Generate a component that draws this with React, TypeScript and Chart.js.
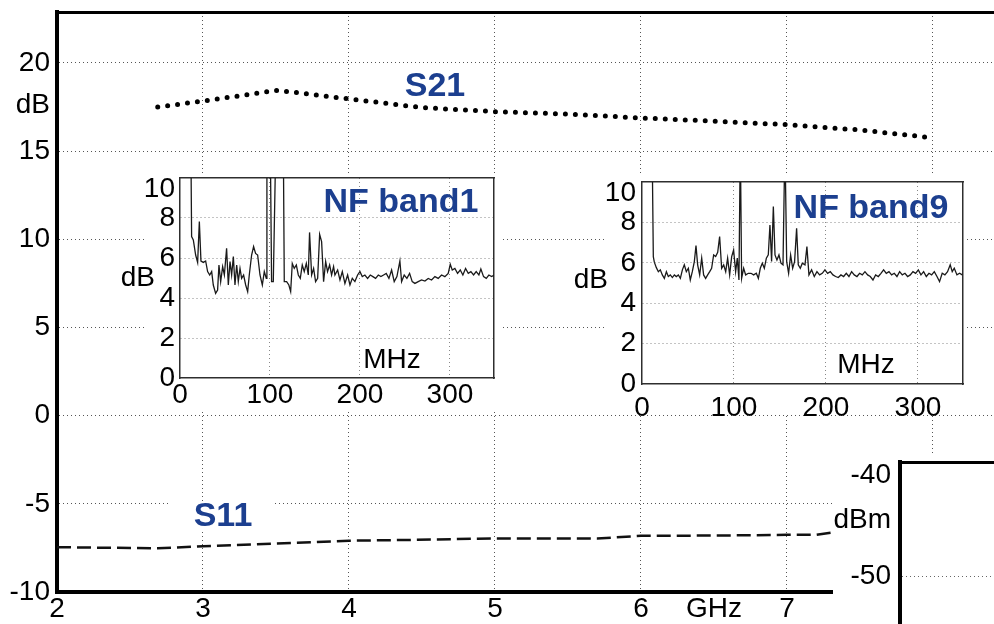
import React, { useEffect, useRef } from 'react';
import { Chart, registerables } from 'chart.js';

Chart.register(...registerables);

const FONT = '"Liberation Sans", Arial, Helvetica, sans-serif';
const TITLE_BLUE = '#1c3f8f';
const NONE = 'rgba(0,0,0,0)';
const GRID_DASH = [1, 3];

// ---------------- main chart (S-parameters vs GHz) ----------------
const s21FreqGHz = [2.69, 3.0, 3.51, 4.0, 4.5, 5.0, 5.5, 6.0, 6.5, 7.0, 7.5, 7.95];
const s21GainDB = [17.5, 17.84, 18.45, 17.96, 17.47, 17.24, 17.1, 16.88, 16.7, 16.5, 16.2, 15.8];
const s11FreqGHz = [2.0, 2.69, 3.0, 3.5, 4.0, 4.4, 5.0, 5.7, 6.0, 6.5, 7.0, 7.2, 7.33];
const s11ReturnDB = [-7.46, -7.52, -7.41, -7.25, -7.09, -7.05, -6.96, -6.97, -6.81, -6.8, -6.76, -6.76, -6.6];
const mainXTickValues = [2, 3, 4, 5, 6, 6.5, 7, 8];
const mainXTickLabels = ['2', '3', '4', '5', '6', 'GHz', '7', '8'];
const mainYTickValues = [-10, -5, 0, 5, 10, 15, 17.62, 20];
const mainYTickLabels = ['-10', '-5', '0', '5', '10', '15', 'dB', '20'];

// ---------------- NF insets (dB vs MHz) ----------------
const nfXTickValues = [0, 100, 200, 300];
const nfXTickLabels = ['0', '100', '200', '300'];
const nfYTickValues = [0, 2, 4, 6, 8, 9.45];
const nfYTickLabels = ['0', '2', '4', '6', '8', '10'];

const band1FreqMHz = [
  10, 12.2, 12.9, 14.8, 17.4, 19.6, 21.5, 23.3, 25.9, 28.5,
  30.7, 33, 35.2, 37, 39.6, 41.8, 43.3, 45.2, 47.4, 49.3,
  51.8, 53.7, 55.6, 57.4, 59.3, 61.1, 63, 64.8, 66.7, 68.5,
  70.7, 73, 75.2, 77, 79.6, 81.8, 84, 86.3, 88.9, 91.5,
  93.7, 95.9, 96.6, 100.3, 101.8, 103.7, 106.6, 114.8, 115.9, 118.5,
  121, 123, 124.8, 127, 129.3, 131.5, 133.7, 135.9, 138.1, 140.4,
  142.6, 144, 146.3, 148.5, 150.7, 153, 155.2, 157.4, 159.6, 161.9,
  164, 166.3, 168.5, 170.7, 172.2, 175.2, 177.8, 180.4, 183.3, 186.3,
  188.9, 191.5, 194.4, 197.4, 200, 202.6, 205.5, 208.5, 211.5, 214.4,
  217.4, 220.4, 223.3, 226.3, 229.2, 232.2, 235.2, 238.1, 241.1, 244.4,
  246.3, 249.2, 252.2, 255.2, 258.1, 261.1, 264.8, 268.5, 272.2, 275.9,
  279.6, 283.3, 287, 290.7, 294.4, 298.1, 300.4, 302.6, 305.5, 308.5,
  311.5, 314.4, 317.4, 320.4, 323.3, 326.3, 329.2, 332.2, 334.4, 337.4,
  340.4, 343.3, 346.3, 349.3,
];
const band1NoiseFigureDB = [
  12, 11, 7.07, 6.9, 6.15, 5.78, 7.82, 5.85, 5.78, 5.85,
  5.32, 5.15, 5.32, 4.65, 4.23, 4.4, 5.65, 4.82, 5.57, 5.15,
  6.48, 4.65, 5.82, 5.15, 6.07, 4.65, 5.65, 4.82, 5.48, 4.98,
  5.15, 4.65, 4.32, 5.15, 6.15, 6.57, 6.23, 6.15, 5.15, 4.65,
  5.32, 4.98, 12, 12, 4.82, 4.82, 12, 12, 4.82, 4.82,
  4.65, 4.32, 5.73, 5.48, 5.65, 5.15, 4.98, 5.65, 5.32, 5.73,
  5.15, 7.28, 5.15, 5.48, 4.82, 4.98, 7.18, 6.82, 4.82, 5.82,
  5.32, 5.65, 5.15, 5.57, 5.15, 5.4, 4.9, 5.32, 4.73, 5.15,
  4.65, 4.98, 4.82, 5.15, 5.32, 5.07, 5.15, 4.98, 5.15, 5.07,
  4.98, 5.15, 5.07, 5.15, 5.23, 4.98, 5.4, 4.82, 5.07, 5.85,
  4.82, 5.15, 4.98, 5.23, 4.82, 4.73, 4.82, 4.9, 4.85, 4.98,
  4.9, 5.07, 4.98, 5.15, 5.07, 5.23, 5.68, 5.4, 5.48, 5.23,
  5.4, 5.15, 5.48, 5.23, 5.32, 5.15, 5.32, 5.15, 5.45, 5.07,
  4.98, 5.15, 5.07, 5.15,
];

const band9FreqMHz = [
  9, 11.2, 12.3, 13.4, 15.6, 17.8, 19.9, 22.1, 24.3, 26.5,
  28.6, 30.8, 33, 35.2, 37.3, 39.5, 41.7, 43.9, 46, 48.2,
  50.4, 52.5, 54.7, 56.9, 58.7, 60.5, 62.7, 64.9, 67, 69.2,
  71.4, 73.6, 75.7, 77.9, 80.1, 82.3, 84.4, 86.6, 88.8, 91,
  93.1, 95.3, 97.5, 99.6, 101.8, 103.6, 105.4, 106.9, 108.3, 110.5,
  112.7, 115.6, 118.5, 121.4, 124.3, 126.5, 128.6, 130.8, 133, 135.2,
  137.3, 139.1, 140.9, 142.8, 144.6, 146.7, 148.9, 151.1, 153.3, 155.4,
  157.3, 159.4, 161.6, 163.8, 165.9, 168.1, 169.9, 172.1, 174.3, 177.2,
  179.3, 181.5, 184.4, 187.3, 190.2, 193.1, 196, 198.9, 201.8, 204.7,
  207.6, 210.5, 213.4, 216.3, 219.2, 222.1, 225, 227.9, 230.8, 233.7,
  236.6, 239.5, 242.4, 245.3, 248.2, 251.1, 254, 256.9, 259.8, 262.7,
  265.6, 268.5, 271.4, 274.3, 277.2, 280.1, 283, 285.9, 288.8, 291.7,
  294.6, 297.5, 300.4, 303.3, 306.2, 309.1, 312, 314.9, 317.8, 320.7,
  323.5, 326.4, 329.3, 332.2, 335.1, 337.3, 339.5, 342.4, 345.3, 348.2,
];
const band9NoiseFigureDB = [
  12, 11, 6.3, 6.03, 5.76, 5.56, 5.65, 5.4, 5.23, 5.56,
  5.32, 5.4, 5.27, 5.4, 5.32, 5.4, 5.23, 5.65, 5.9, 5.56,
  5.73, 5.15, 5.56, 6.06, 6.85, 5.9, 5.4, 6.23, 5.4, 5.23,
  5.4, 5.56, 5.73, 6.39, 6.31, 6.52, 7.3, 5.73, 5.9, 5.56,
  6.23, 5.4, 6.31, 6.64, 5.56, 6.23, 5.15, 12, 5.23, 5.73,
  5.4, 5.48, 5.48, 5.4, 5.48, 5.23, 5.73, 5.98, 5.73, 6.23,
  6.39, 7.87, 6.06, 8.78, 6.39, 6.14, 6.39, 5.98, 5.9, 12,
  6.06, 5.48, 6.39, 5.73, 6.06, 7.71, 5.9, 5.73, 5.98, 5.9,
  6.8, 5.4, 5.65, 5.32, 5.56, 5.4, 5.48, 5.65, 5.48, 5.56,
  5.4, 5.32, 5.27, 5.4, 5.32, 5.48, 5.32, 5.56, 5.4, 5.32,
  5.48, 5.4, 5.56, 5.4, 5.32, 5.15, 5.4, 5.32, 5.48, 5.65,
  5.48, 5.56, 5.4, 5.48, 5.32, 5.56, 5.4, 5.48, 5.32, 5.4,
  5.56, 5.48, 5.65, 5.4, 5.56, 5.32, 5.48, 5.4, 5.56, 5.32,
  5.07, 5.48, 5.4, 5.56, 5.9, 5.56, 5.73, 5.4, 5.48, 5.4,
];

// ---------------- dBm inset (partially visible) ----------------
const dbmYTickValues = [-50, -44.46, -40];
const dbmYTickLabels = ['-50', 'dBm', '-40'];

const zip = (xs: number[], ys: number[]) => xs.map((x, i) => ({ x, y: ys[i] }));

const baseOptions = {
  responsive: false,
  animation: false,
  devicePixelRatio: 1,
  events: [],
  plugins: { legend: { display: false }, tooltip: { enabled: false } },
};

function setTicks(values: number[]) {
  return (s: any) => {
    s.ticks = values.map((v) => ({ value: v }));
  };
}

function frameAxis(position: string, min: number, max: number, width: number, color: string) {
  const horizontal = position === 'top' || position === 'bottom';
  return {
    type: 'linear',
    position,
    min,
    max,
    ticks: { display: false },
    grid: { display: false },
    border: { display: true, width, color },
    afterFit: (s: any) => {
      if (horizontal) {
        s.height = 0;
        s.paddingLeft = 0;
        s.paddingRight = 0;
      } else {
        s.width = 0;
        s.paddingTop = 0;
        s.paddingBottom = 0;
      }
    },
  };
}

function mainConfig(): any {
  const hiddenX = [2, 6.5];
  const hiddenY = [-10, 17.62];
  const decor = {
    id: 'mainDecor',
    beforeDatasetsDraw(chart: any) {
      const { ctx, scales } = chart;
      const cx = scales.x.getPixelForValue(3.137);
      const cy = scales.y.getPixelForValue(-5.74);
      ctx.save();
      ctx.fillStyle = '#fff';
      ctx.fillRect(cx - 52, cy - 14, 101, 28);
      ctx.restore();
    },
    afterDatasetsDraw(chart: any) {
      const { ctx, scales } = chart;
      ctx.save();
      ctx.fillStyle = TITLE_BLUE;
      ctx.font = `bold 34px ${FONT}`;
      ctx.textAlign = 'center';
      ctx.textBaseline = 'middle';
      ctx.fillText('S21', scales.x.getPixelForValue(4.589), scales.y.getPixelForValue(18.64));
      ctx.fillText('S11', scales.x.getPixelForValue(3.137), scales.y.getPixelForValue(-5.74));
      ctx.restore();
    },
  };
  return {
    type: 'line',
    data: {
      datasets: [
        {
          data: zip(s21FreqGHz, s21GainDB),
          borderColor: '#000',
          borderWidth: 5,
          borderDash: [0, 10],
          borderCapStyle: 'round',
          pointRadius: 0,
          tension: 0,
          fill: false,
        },
        {
          data: zip(s11FreqGHz, s11ReturnDB),
          borderColor: '#111',
          borderWidth: 2.5,
          borderDash: [14, 6],
          borderCapStyle: 'butt',
          pointRadius: 0,
          tension: 0,
          fill: false,
        },
      ],
    },
    options: {
      ...baseOptions,
      layout: { padding: { top: 12, left: 0, right: 0, bottom: 0 } },
      scales: {
        x: {
          type: 'linear',
          position: 'bottom',
          min: 2,
          max: 8.418,
          afterBuildTicks: setTicks(mainXTickValues),
          afterFit: (s: any) => {
            s.height = 32;
            s.paddingLeft = 0;
            s.paddingRight = 0;
          },
          ticks: {
            autoSkip: false,
            maxRotation: 0,
            padding: 0,
            color: '#000',
            font: { family: FONT, size: 28 },
            callback: (_v: any, i: number) => mainXTickLabels[i],
          },
          grid: {
            drawTicks: false,
            lineWidth: 1,
            color: (c: any) => (c.tick && hiddenX.includes(c.tick.value) ? NONE : '#555'),
          },
          border: { display: true, width: 4, color: '#000', dash: GRID_DASH },
        },
        xTop: frameAxis('top', 2, 8.418, 3, '#000'),
        y: {
          type: 'linear',
          position: 'left',
          min: -10,
          max: 22.89,
          afterBuildTicks: setTicks(mainYTickValues),
          afterFit: (s: any) => {
            s.width = 57;
            s.paddingTop = 0;
            s.paddingBottom = 0;
          },
          ticks: {
            autoSkip: false,
            padding: 7,
            color: '#000',
            font: { family: FONT, size: 28 },
            callback: (_v: any, i: number) => mainYTickLabels[i],
          },
          grid: {
            drawTicks: false,
            lineWidth: 1,
            color: (c: any) => (c.tick && hiddenY.includes(c.tick.value) ? NONE : '#555'),
          },
          border: { display: true, width: 4, color: '#000', dash: GRID_DASH },
        },
      },
    },
    plugins: [decor],
  };
}

interface NFParams {
  freq: number[];
  nf: number[];
  title: string;
  titleAt: [number, number];
  unitAt: [number, number];
  dbAt: number;
  dbGap: number;
  whiteLeft: number;
  whiteHeight: number;
  padTop: number;
  padRight: number;
  yAxisWidth: number;
  xAxisHeight: number;
  yLabelPad: number;
  xLabelPad: number;
}

function nfConfig(p: NFParams): any {
  const frameColor = '#2e2e2e';
  const gridColor = '#888';
  const decor = {
    id: 'nfDecor',
    beforeDraw(chart: any) {
      const { ctx, width } = chart;
      ctx.save();
      ctx.fillStyle = '#fff';
      ctx.fillRect(p.whiteLeft, 0, width - p.whiteLeft, p.whiteHeight);
      ctx.restore();
    },
    afterDatasetsDraw(chart: any) {
      const { ctx, scales, chartArea } = chart;
      ctx.save();
      ctx.textBaseline = 'middle';
      ctx.textAlign = 'center';
      ctx.fillStyle = TITLE_BLUE;
      ctx.font = `bold 34px ${FONT}`;
      ctx.fillText(p.title, scales.x.getPixelForValue(p.titleAt[0]), scales.y.getPixelForValue(p.titleAt[1]));
      ctx.fillStyle = '#000';
      ctx.font = `28px ${FONT}`;
      ctx.fillText('MHz', scales.x.getPixelForValue(p.unitAt[0]), scales.y.getPixelForValue(p.unitAt[1]));
      ctx.textAlign = 'right';
      ctx.fillText('dB', chartArea.left - p.dbGap, scales.y.getPixelForValue(p.dbAt));
      ctx.restore();
    },
  };
  return {
    type: 'line',
    data: {
      datasets: [
        {
          data: zip(p.freq, p.nf),
          borderColor: '#1a1a1a',
          borderWidth: 1.3,
          pointRadius: 0,
          tension: 0,
          fill: false,
        },
      ],
    },
    options: {
      ...baseOptions,
      layout: { padding: { top: p.padTop, left: 0, right: p.padRight, bottom: 0 } },
      scales: {
        x: {
          type: 'linear',
          position: 'bottom',
          min: 0,
          max: 349,
          afterBuildTicks: setTicks(nfXTickValues),
          afterFit: (s: any) => {
            s.height = p.xAxisHeight;
            s.paddingLeft = 0;
            s.paddingRight = 0;
          },
          ticks: {
            autoSkip: false,
            maxRotation: 0,
            padding: p.xLabelPad,
            color: '#000',
            font: { family: FONT, size: 28 },
            callback: (_v: any, i: number) => nfXTickLabels[i],
          },
          grid: {
            drawTicks: false,
            lineWidth: 1,
            color: (c: any) => (c.tick && c.tick.value === 0 ? NONE : gridColor),
          },
          border: { display: true, width: 1.5, color: frameColor, dash: GRID_DASH },
        },
        xTop: frameAxis('top', 0, 349, 1.5, frameColor),
        y: {
          type: 'linear',
          position: 'left',
          min: 0,
          max: 10,
          afterBuildTicks: setTicks(nfYTickValues),
          afterFit: (s: any) => {
            s.width = p.yAxisWidth;
            s.paddingTop = 0;
            s.paddingBottom = 0;
          },
          ticks: {
            autoSkip: false,
            padding: p.yLabelPad,
            color: '#000',
            font: { family: FONT, size: 28 },
            callback: (_v: any, i: number) => nfYTickLabels[i],
          },
          grid: {
            drawTicks: false,
            lineWidth: 1,
            color: (c: any) => (c.tick && (c.tick.value === 0 || c.tick.value > 9) ? NONE : gridColor),
          },
          border: { display: true, width: 1.5, color: frameColor, dash: GRID_DASH },
        },
        yRight: frameAxis('right', 0, 10, 1.5, frameColor),
      },
    },
    plugins: [decor],
  };
}

function dbmConfig(): any {
  const decor = {
    id: 'dbmDecor',
    beforeDraw(chart: any) {
      const { ctx, width, height } = chart;
      ctx.save();
      ctx.fillStyle = '#fff';
      ctx.fillRect(0, 0, width, height);
      ctx.restore();
    },
  };
  return {
    type: 'line',
    data: { datasets: [] },
    options: {
      ...baseOptions,
      layout: { padding: { top: 7, left: 0, right: 0, bottom: 0 } },
      scales: {
        x: { type: 'linear', display: false, min: 0, max: 1 },
        xTop: frameAxis('top', 0, 1, 3, '#000'),
        y: {
          type: 'linear',
          position: 'left',
          min: -54.75,
          max: -38.71,
          afterBuildTicks: setTicks(dbmYTickValues),
          afterFit: (s: any) => {
            s.width = 67;
            s.paddingTop = 0;
            s.paddingBottom = 0;
          },
          ticks: {
            autoSkip: false,
            padding: 9,
            color: '#000',
            font: { family: FONT, size: 28 },
            callback: (_v: any, i: number) => dbmYTickLabels[i],
          },
          grid: {
            drawTicks: false,
            lineWidth: 1,
            color: (c: any) => (c.tick && c.tick.value === -50 ? '#666' : NONE),
          },
          border: { display: true, width: 4, color: '#000', dash: GRID_DASH },
        },
      },
    },
    plugins: [decor],
  };
}

export default function App() {
  const mainRef = useRef<HTMLCanvasElement>(null);
  const band1Ref = useRef<HTMLCanvasElement>(null);
  const band9Ref = useRef<HTMLCanvasElement>(null);
  const dbmRef = useRef<HTMLCanvasElement>(null);

  useEffect(() => {
    const charts: Chart[] = [];
    if (mainRef.current) charts.push(new Chart(mainRef.current, mainConfig()));
    if (band1Ref.current)
      charts.push(
        new Chart(
          band1Ref.current,
          nfConfig({
            freq: band1FreqMHz,
            nf: band1NoiseFigureDB,
            title: 'NF band1',
            titleAt: [245.6, 8.78],
            unitAt: [235.6, 0.9],
            dbAt: 5.0,
            dbGap: 25,
            whiteLeft: 32,
            whiteHeight: 236,
            padTop: 3,
            padRight: 6,
            yAxisWidth: 65,
            xAxisHeight: 33,
            yLabelPad: 5,
            xLabelPad: 0,
          })
        )
      );
    if (band9Ref.current)
      charts.push(
        new Chart(
          band9Ref.current,
          nfConfig({
            freq: band9FreqMHz,
            nf: band9NoiseFigureDB,
            title: 'NF band9',
            titleAt: [249, 8.66],
            unitAt: [243.5, 0.94],
            dbAt: 5.15,
            dbGap: 34,
            whiteLeft: 35,
            whiteHeight: 238,
            padTop: 6,
            padRight: 4,
            yAxisWidth: 72,
            xAxisHeight: 38,
            yLabelPad: 6,
            xLabelPad: 7,
          })
        )
      );
    if (dbmRef.current) charts.push(new Chart(dbmRef.current, dbmConfig()));
    return () => charts.forEach((c) => c.destroy());
  }, []);

  const abs = (left: number, top: number, width: number, height: number): React.CSSProperties => ({
    position: 'absolute',
    left,
    top,
    width,
    height,
    display: 'block',
  });

  return (
    <div
      style={{
        position: 'absolute',
        left: 0,
        top: 0,
        width: 994,
        height: 624,
        overflow: 'hidden',
        background: '#fff',
      }}
    >
      <canvas ref={mainRef} width={994} height={624} style={abs(0, 0, 994, 624)} />
      <canvas ref={band1Ref} width={385} height={236} style={abs(115, 175, 385, 236)} />
      <canvas ref={band9Ref} width={397} height={246} style={abs(570, 176, 397, 246)} />
      <canvas ref={dbmRef} width={161} height={169} style={abs(833, 455, 161, 169)} />
    </div>
  );
}
